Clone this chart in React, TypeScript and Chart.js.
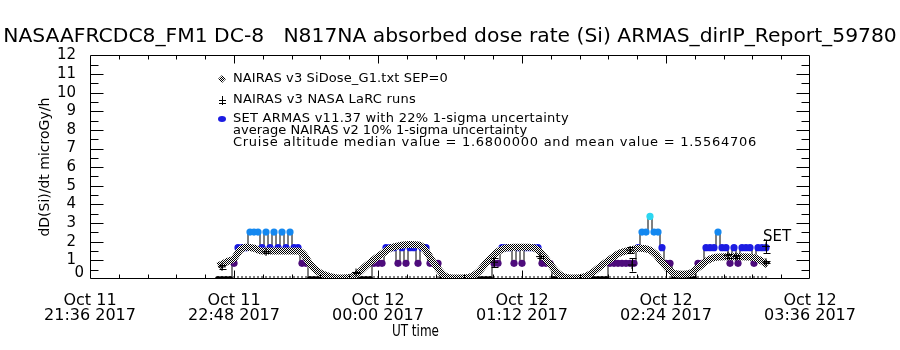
import React, { useEffect, useRef } from 'react';
import { Chart, registerables } from 'chart.js';

Chart.register(...registerables);

// ---------- text ----------
const TITLE = 'NASAAFRCDC8_FM1 DC-8   N817NA absorbed dose rate (Si) ARMAS_dirIP_Report_59780';
const Y_TITLE = 'dD(Si)/dt microGy/h';
const X_TITLE = 'UT time';
const LEGEND_LINES = [
  'NAIRAS v3 SiDose_G1.txt SEP=0',
  'NAIRAS v3 NASA LaRC runs',
  'SET ARMAS v11.37 with 22% 1-sigma uncertainty',
  'average NAIRAS v2 10% 1-sigma uncertainty',
  'Cruise altitude median value = 1.6800000 and mean value = 1.5564706',
];
const SET_LABEL = 'SET';
const SET_LABEL_VALUE = 2.25;

// ---------- axes ----------
// x values are minutes after Oct 11 21:36 UT
const X_MIN = 0;
const X_MAX = 360;
const X_TICK_MINUTES = [0, 72, 144, 216, 288, 360];
const X_TICK_DATES = ['Oct 11', 'Oct 11', 'Oct 12', 'Oct 12', 'Oct 12', 'Oct 12'];
const X_TICK_TIMES = ['21:36 2017', '22:48 2017', '00:00 2017', '01:12 2017', '02:24 2017', '03:36 2017'];
const Y_MIN = 0;
const Y_MAX = 12;

// ---------- SET ARMAS measurements ----------
const SET_TIMES = [
  64, 66, 68, 70, 72, 74, 76, 78, 80, 82, 84, 86, 88, 90, 92, 94, 96, 98, 100, 102, 104, 106, 108, 110,
  112, 114, 116, 118, 120, 122, 124, 126, 128, 130, 132, 134, 136, 138, 140,
  142, 144, 146, 148, 150, 152, 154, 156, 158, 160, 162, 164, 166, 168, 170, 172, 174, 176,
  178, 180, 182, 184, 186, 188, 190, 192, 194, 196, 198, 200,
  202, 204, 206, 208, 210, 212, 214, 216, 218, 220, 222, 224, 226, 228, 230, 232,
  234, 236, 238, 240, 242, 244, 246, 248, 250, 252, 254, 256, 258,
  260, 262, 264, 266, 268, 270, 272, 274, 276, 278, 280, 282, 284, 286, 288, 290, 292,
  294, 296, 298, 300, 302,
  304, 306, 308, 310, 312, 314, 316, 318, 320, 322, 324, 326, 328, 330, 332, 334, 336, 338,
];
const SET_DOSE = [
  0, 0, 0, 0, 0.84, 1.68, 1.68, 1.68, 2.52, 2.52, 2.52, 1.68, 2.52, 1.68, 2.52, 1.68, 2.52, 1.68, 2.52, 1.68, 1.68, 0.84, 0.84, 0,
  0, 0, 0, 0, 0, 0, 0, 0, 0, 0, 0, 0, 0, 0, 0,
  0.84, 0.84, 0.84, 1.68, 1.68, 1.68, 0.84, 1.68, 0.84, 1.68, 1.68, 0.84, 1.68, 1.68, 0.84, 0.84, 0.84, 0,
  0, 0, 0, 0, 0, 0, 0, 0, 0, 0, 0, 0,
  0.84, 0.84, 1.68, 1.68, 1.68, 0.84, 1.68, 0.84, 1.68, 1.68, 1.68, 1.68, 0.84, 0.84, 0.84, 0,
  0, 0, 0, 0, 0, 0, 0, 0, 0, 0, 0, 0, 0,
  0.84, 0.84, 0.84, 0.84, 0.84, 0.84, 0.84, 1.68, 2.52, 2.52, 3.36, 2.52, 2.52, 1.68, 0.84, 0.84, 0,
  0, 0, 0, 0, 0,
  0.84, 0.84, 1.68, 1.68, 1.68, 2.52, 1.68, 1.68, 0.84, 1.68, 0.84, 1.68, 1.68, 1.68, 0.84, 1.68, 1.68, 1.68,
];
const SET_LEVELS = [0, 0.84, 1.68, 2.52, 3.36];
const SET_LEVEL_COLORS = ['#000000', '#4e0c7c', '#1c1ce2', '#1488f0', '#2cd6f0'];

// ---------- NAIRAS v3 SiDose model ----------
const MODEL_TIMES = [
  64, 66, 69, 72, 75, 78, 82, 86, 92, 98,
  104, 107, 110, 114, 118, 122, 126, 130, 134, 138,
  142, 146, 150, 155, 160, 165, 168, 171, 174, 177,
  180, 186, 190, 194, 198, 202, 206, 212, 220, 224,
  227, 230, 233, 236, 242, 248, 252, 256, 260, 265,
  270, 275, 280, 283, 286, 289, 292, 296, 300, 304,
  308, 312, 318, 325, 332, 336, 339,
];
const MODEL_DOSE = [
  0.7, 0.8, 0.95, 1.1, 1.55, 1.7, 1.65, 1.5, 1.5, 1.5,
  1.5, 1.3, 0.8, 0.4, 0.2, 0.08, 0.05, 0.08, 0.3, 0.7,
  1.05, 1.35, 1.65, 1.8, 1.85, 1.8, 1.5, 1.0, 0.55, 0.2,
  0.07, 0.05, 0.1, 0.35, 0.85, 1.3, 1.6, 1.7, 1.7, 1.55,
  1.2, 0.8, 0.4, 0.15, 0.05, 0.15, 0.4, 0.75, 1.05, 1.4,
  1.55, 1.65, 1.55, 1.3, 0.9, 0.55, 0.3, 0.25, 0.3, 0.6,
  0.95, 1.15, 1.2, 1.2, 1.15, 0.95, 0.75,
];

// ---------- NAIRAS v3 NASA LaRC runs ----------
const LARC_TIMES = [66, 88, 133, 202, 225, 270, 271, 319, 323, 338, 338];
const LARC_DOSE = [0.65, 1.45, 0.35, 0.9, 1.2, 1.55, 0.75, 1.25, 1.2, 1.75, 0.9];
const LARC_ERR = [0.1, 0.05, 0.05, 0.25, 0.05, 0.15, 0.35, 0.1, 0.1, 0.35, 0.05];

const FONT = "'DejaVu Sans', sans-serif";

function levelColor(v: number): string {
  let best = 0;
  for (let i = 0; i < SET_LEVELS.length; i++) {
    if (Math.abs(SET_LEVELS[i] - v) < Math.abs(SET_LEVELS[best] - v)) best = i;
  }
  return SET_LEVEL_COLORS[best];
}

function makeChecker(ctx: CanvasRenderingContext2D): CanvasPattern | string {
  const pc = document.createElement('canvas');
  pc.width = 2;
  pc.height = 2;
  const g = pc.getContext('2d');
  if (!g) return '#777';
  g.fillStyle = '#ffffff';
  g.fillRect(0, 0, 2, 2);
  g.fillStyle = '#000000';
  g.fillRect(0, 0, 1, 1);
  g.fillRect(1, 1, 1, 1);
  return ctx.createPattern(pc, 'repeat') || '#777';
}

// draw text stretched to a wanted width (Hershey-like wide glyphs)
function fillWide(ctx: any, s: string, x: number, y: number, width: number) {
  ctx.letterSpacing = '0px';
  const w = ctx.measureText(s).width;
  const ls = (width - w) / s.length;
  ctx.letterSpacing = `${ls.toFixed(2)}px`;
  ctx.fillText(s, x, y);
  ctx.letterSpacing = '0px';
}

// draw centred text horizontally squeezed to a wanted width
function fillSqueezed(ctx: any, s: string, cx: number, y: number, width: number) {
  const w = ctx.measureText(s).width;
  const k = Math.min(1, width / w);
  ctx.save();
  ctx.translate(cx, y);
  ctx.scale(k, 1);
  ctx.textAlign = 'center';
  ctx.fillText(s, 0, 0);
  ctx.restore();
}

export default function App() {
  const ref = useRef<HTMLCanvasElement | null>(null);

  useEffect(() => {
    const canvas = ref.current;
    if (!canvas) return;
    const ctx2d = canvas.getContext('2d') as CanvasRenderingContext2D;
    const checker = makeChecker(ctx2d);

    const framePlugin = {
      id: 'idlFrame',
      afterDatasetsDraw(chart: any) {
        const { ctx, chartArea: a, scales } = chart;
        const xs = scales.x;
        const ys = scales.y;
        ctx.save();
        // error bars of LaRC runs
        ctx.strokeStyle = '#000';
        ctx.lineWidth = 1;
        for (let i = 0; i < LARC_TIMES.length; i++) {
          const px = Math.round(xs.getPixelForValue(LARC_TIMES[i])) + 0.5;
          const y1 = ys.getPixelForValue(LARC_DOSE[i] - LARC_ERR[i]);
          const y2 = ys.getPixelForValue(LARC_DOSE[i] + LARC_ERR[i]);
          ctx.beginPath();
          ctx.moveTo(px, y1);
          ctx.lineTo(px, y2);
          ctx.moveTo(px - 3, Math.round(y1) + 0.5);
          ctx.lineTo(px + 4, Math.round(y1) + 0.5);
          ctx.moveTo(px - 3, Math.round(y2) + 0.5);
          ctx.lineTo(px + 4, Math.round(y2) + 0.5);
          ctx.stroke();
        }
        // frame
        const L = Math.round(a.left) + 0.5;
        const R = Math.round(a.right) - 0.5;
        const T = Math.round(a.top) + 0.5;
        const B = Math.round(a.bottom) - 0.5;
        ctx.beginPath();
        ctx.rect(L, T, R - L, B - T);
        for (let k = 1; k < (Y_MAX - Y_MIN) * 2; k++) {
          const v = Y_MIN + k / 2;
          const py = Math.round(ys.getPixelForValue(v)) + 0.5;
          const len = k % 2 === 0 ? 13 : 8;
          ctx.moveTo(L, py);
          ctx.lineTo(L + len, py);
          ctx.moveTo(R, py);
          ctx.lineTo(R - len, py);
        }
        for (let k = 1; k < 25; k++) {
          const v = X_MIN + (k * (X_MAX - X_MIN)) / 25;
          const px = Math.round(xs.getPixelForValue(v)) + 0.5;
          const len = k % 5 === 0 ? 8 : 4;
          ctx.moveTo(px, B);
          ctx.lineTo(px, B - len);
          ctx.moveTo(px, T);
          ctx.lineTo(px, T + len);
        }
        ctx.stroke();

        ctx.fillStyle = '#000';
        ctx.textBaseline = 'middle';

        // y label for 0 (IDL draws it lifted off the bottom axis)
        ctx.font = `15px ${FONT}`;
        ctx.textAlign = 'right';
        ctx.fillText(String(Y_MIN), a.left - 6, ys.getPixelForValue(Y_MIN) - 6);

        // SET label
        ctx.textAlign = 'left';
        const lastT = SET_TIMES[SET_TIMES.length - 1];
        ctx.fillText(SET_LABEL, xs.getPixelForValue(lastT) - 3, ys.getPixelForValue(SET_LABEL_VALUE));

        // x axis title
        ctx.font = `15px ${FONT}`;
        fillSqueezed(ctx, X_TITLE, a.left + (a.right - a.left) * 0.452, 332, 47);

        // legend
        ctx.textAlign = 'left';
        const lx = 222;
        const tx = 233;
        const rows = [79, 100, 119, 131, 143];
        const widths = [215, 183, 336, 294, 524];
        ctx.font = `13px ${FONT}`;
        LEGEND_LINES.forEach((s, i) => fillWide(ctx, s, tx, rows[i], widths[i]));
        ctx.beginPath();
        ctx.moveTo(lx, rows[0] - 4);
        ctx.lineTo(lx + 4, rows[0]);
        ctx.lineTo(lx, rows[0] + 4);
        ctx.lineTo(lx - 4, rows[0]);
        ctx.closePath();
        ctx.fillStyle = checker;
        ctx.fill();
        ctx.beginPath();
        ctx.moveTo(lx + 0.5, rows[1] - 4);
        ctx.lineTo(lx + 0.5, rows[1] + 5);
        ctx.moveTo(lx - 3, rows[1] + 0.5);
        ctx.lineTo(lx + 4, rows[1] + 0.5);
        ctx.moveTo(lx - 3, rows[1] + 3.5);
        ctx.lineTo(lx + 4, rows[1] + 3.5);
        ctx.strokeStyle = '#000';
        ctx.stroke();
        ctx.beginPath();
        ctx.ellipse(lx, rows[2], 4, 3, 0, 0, Math.PI * 2);
        ctx.fillStyle = SET_LEVEL_COLORS[2];
        ctx.fill();
        ctx.restore();
      },
    };

    const setData = SET_TIMES.map((t, i) => ({ x: t, y: SET_DOSE[i] }));
    const modelData = MODEL_TIMES.map((t, i) => ({ x: t, y: MODEL_DOSE[i] }));
    const larcData = LARC_TIMES.map((t, i) => ({ x: t, y: LARC_DOSE[i] }));
    const flightMarks = SET_TIMES.filter((_, i) => SET_DOSE[i] > 0).map((t) => ({ x: t, y: 0 }));

    const chart = new Chart(canvas, {
      type: 'line',
      data: {
        datasets: [
          {
            label: 'NAIRAS v3 NASA LaRC runs',
            type: 'scatter',
            data: larcData,
            showLine: false,
            pointStyle: 'cross',
            pointRadius: 4,
            borderColor: '#000',
            backgroundColor: '#000',
            pointBorderWidth: 1,
            order: 0,
            clip: 0,
          } as any,
          {
            label: 'NAIRAS v3 SiDose_G1.txt SEP=0',
            data: modelData,
            borderColor: checker as any,
            borderWidth: 7,
            pointRadius: 0,
            cubicInterpolationMode: 'monotone',
            fill: false,
            order: 1,
            clip: 0,
          },
          {
            label: 'SET ARMAS v11.37',
            data: setData,
            borderColor: '#000',
            borderWidth: 1,
            stepped: 'middle',
            pointRadius: (c: any) => (c.raw && c.raw.y === 0 ? 3 : 3.6),
            pointBackgroundColor: (c: any) => levelColor(c.raw ? c.raw.y : 0),
            pointBorderWidth: 0,
            pointBorderColor: 'rgba(0,0,0,0)',
            fill: false,
            order: 2,
            clip: 0,
          } as any,
          {
            label: 'flight marks',
            type: 'scatter',
            data: flightMarks,
            showLine: false,
            pointStyle: 'line',
            rotation: 90,
            pointRadius: 3,
            borderColor: '#000',
            pointBorderWidth: 1,
            order: 3,
            clip: 0,
          } as any,
        ],
      },
      options: {
        animation: false,
        responsive: false,
        events: [],
        layout: { padding: 0 },
        plugins: {
          legend: { display: false },
          tooltip: { enabled: false },
          title: {
            display: true,
            text: TITLE,
            color: '#000',
            font: { family: FONT, size: 20.3, weight: 'normal' },
            padding: { top: 25, bottom: 6 },
          },
        },
        scales: {
          x: {
            type: 'linear',
            min: X_MIN,
            max: X_MAX,
            afterBuildTicks: (s: any) => {
              s.ticks = X_TICK_MINUTES.map((v) => ({ value: v }));
            },
            afterFit: (s: any) => {
              s.height = 71;
            },
            grid: { display: false },
            border: { display: false },
            ticks: {
              autoSkip: false,
              maxRotation: 0,
              color: '#000',
              padding: 6,
              font: { family: FONT, size: 16, lineHeight: 0.95 },
              callback: (v: any) => {
                const i = X_TICK_MINUTES.indexOf(Number(v));
                return i >= 0 ? [X_TICK_DATES[i], X_TICK_TIMES[i]] : '';
              },
            },
            title: { display: false, text: X_TITLE },
          },
          y: {
            min: Y_MIN,
            max: Y_MAX,
            afterFit: (s: any) => {
              s.width = 90;
            },
            grid: { display: false },
            border: { display: false },
            ticks: {
              stepSize: 1,
              autoSkip: false,
              color: '#000',
              padding: 6,
              font: { family: FONT, size: 15 },
              callback: (v: any) => (Number(v) === Y_MIN ? '' : String(v)),
            },
            title: {
              display: true,
              text: Y_TITLE,
              color: '#000',
              font: { family: FONT, size: 14 },
              padding: { top: 37, bottom: 0 },
            },
          },
          y2: {
            position: 'right',
            min: Y_MIN,
            max: Y_MAX,
            afterFit: (s: any) => {
              s.width = 90;
            },
            grid: { display: false },
            border: { display: false },
            ticks: { display: false },
          },
        },
      } as any,
      plugins: [framePlugin],
    });

    return () => chart.destroy();
  }, []);

  return (
    <div style={{ position: 'absolute', left: 0, top: 0, width: 900, height: 350, background: '#fff' }}>
      <canvas ref={ref} width={900} height={350} />
    </div>
  );
}
